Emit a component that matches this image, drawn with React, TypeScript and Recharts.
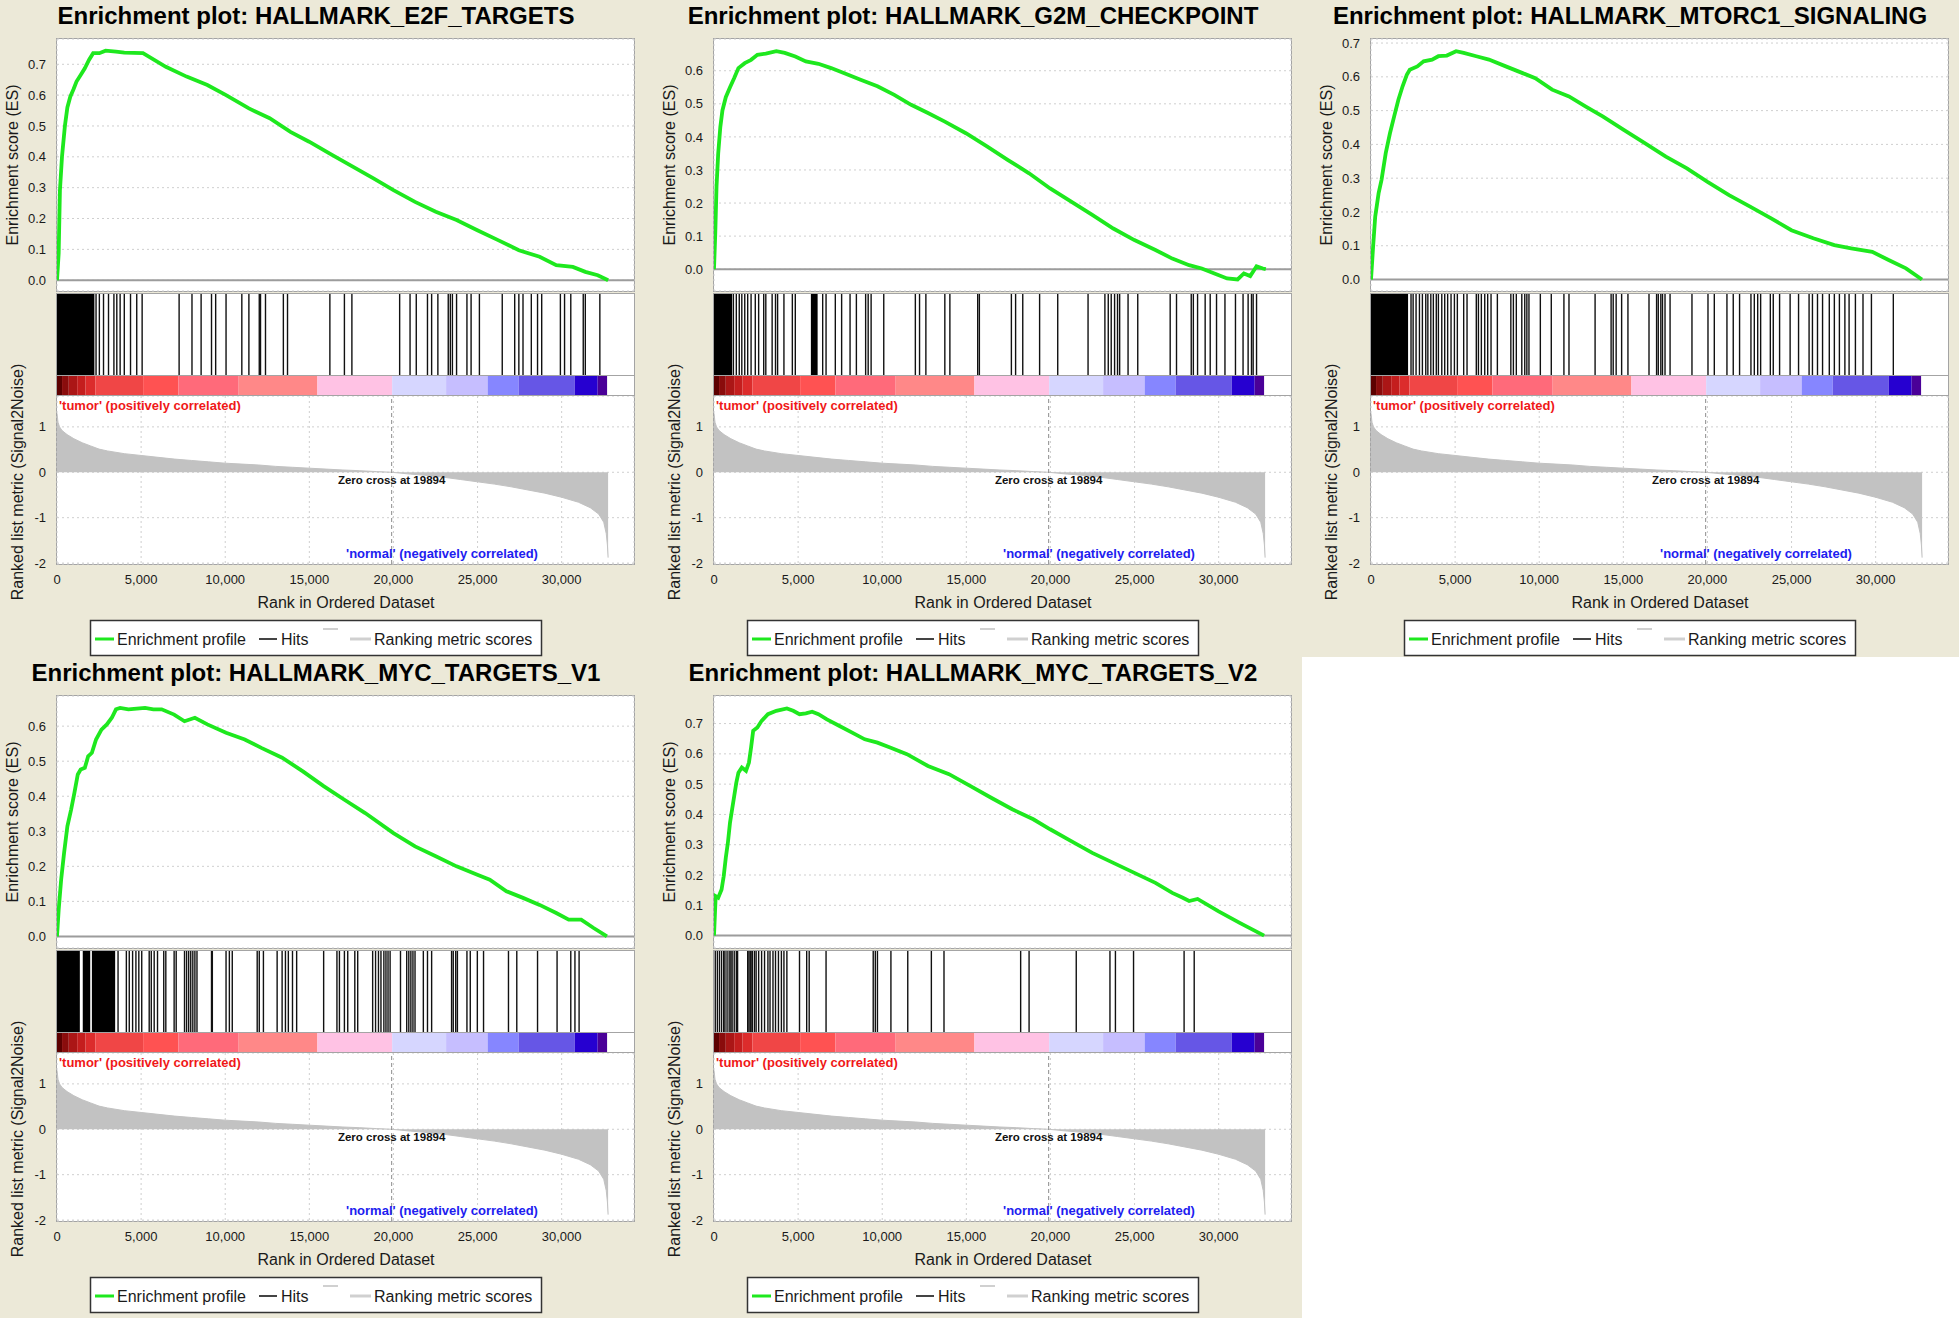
import React from 'react';
import {
  LineChart, Line, XAxis, YAxis, CartesianGrid, ReferenceLine, ReferenceArea,
  ComposedChart, AreaChart, Area, ReferenceDot,
} from 'recharts';

const FONT = '"Liberation Sans", Arial, Helvetica, sans-serif';
const BEIGE = '#ece9d8';
const GREEN = '#1ee81e';
const X_MAX = 34300;
const ZERO_CROSS = 19894;
const RANK_TICKS = [0, 5000, 10000, 15000, 20000, 25000, 30000];
const METRIC_TICKS = [-2, -1, 0, 1];
const METRIC_DOMAIN: [number, number] = [-2.02, 1.68];

// Ranked list metric (same dataset for every panel)
const metricRanks = [0, 60, 150, 300, 600, 1000, 1500, 2000, 2500, 3000, 4000, 5000, 6000, 7000, 8000, 9000, 10000, 11000, 12000, 13000, 14000, 15000, 16000, 17000, 18000, 19000, 19894, 21000, 22000, 23000, 24000, 25000, 26000, 27000, 28000, 29000, 30000, 31000, 31700, 32200, 32500, 32650, 32720, 32760];
const metricValues = [1.3, 1.1, 1.0, 0.92, 0.83, 0.74, 0.65, 0.58, 0.51, 0.47, 0.41, 0.37, 0.33, 0.29, 0.26, 0.23, 0.2, 0.18, 0.16, 0.13, 0.11, 0.09, 0.07, 0.05, 0.035, 0.015, 0, -0.04, -0.07, -0.11, -0.16, -0.21, -0.26, -0.32, -0.39, -0.46, -0.55, -0.66, -0.78, -0.92, -1.1, -1.35, -1.6, -1.88];

// Colour bar of the ranked list
const colorBreaks = [0, 300, 700, 1200, 1700, 2280, 5120, 7215, 10800, 15480, 19925, 23130, 25600, 27450, 30780, 32140, 32700];
const colorFills = ['#5c0000', '#8a0c0c', '#ab1616', '#c41e1e', '#dc2c2c', '#f04646', '#ff5252', '#ff6a7a', '#ff8888', '#ffc2e4', '#d6d6ff', '#c6beff', '#8686ff', '#6656e6', '#2600d0', '#4a0098'];

// HALLMARK_E2F_TARGETS
const e2fRanks = [0, 99, 173, 296, 469, 617, 790, 988, 1160, 1407, 1654, 1901, 2148, 2518, 2889, 3506, 4000, 5111, 6469, 7703, 8938, 10049, 11407, 12641, 13876, 14987, 16345, 17580, 18814, 20000, 21283, 22517, 23752, 24987, 26221, 27455, 28690, 29678, 30666, 31407, 32147, 32764];
const e2fES = [0, 0.087, 0.29, 0.40, 0.50, 0.56, 0.595, 0.62, 0.644, 0.665, 0.687, 0.714, 0.736, 0.736, 0.744, 0.741, 0.738, 0.736, 0.692, 0.66, 0.633, 0.60, 0.557, 0.525, 0.481, 0.449, 0.406, 0.368, 0.33, 0.292, 0.254, 0.222, 0.195, 0.162, 0.13, 0.097, 0.076, 0.049, 0.043, 0.027, 0.016, 0];
const e2fHitBlocks = [[0, 2222]];
const e2fHits = [2321, 2518, 2765, 3062, 3383, 3555, 3753, 4000, 4370, 4740, 5061, 7259, 8024, 8567, 9185, 9432, 10049, 10987, 11407, 12024, 12098, 12394, 13456, 13703, 16221, 17085, 17530, 20369, 20987, 21357, 22023, 22270, 22641, 23258, 23381, 23505, 23752, 24369, 24616, 25110, 26468, 27208, 27455, 27702, 28196, 28566, 28813, 29924, 30172, 30542, 31283, 31406, 32270];

// HALLMARK_G2M_CHECKPOINT
const g2mRanks = [0, 75, 150, 250, 376, 501, 701, 952, 1202, 1452, 1828, 2204, 2579, 3080, 3706, 4207, 4833, 5459, 6210, 6961, 7712, 8714, 9716, 10717, 11719, 12720, 13722, 14974, 16226, 17478, 18730, 19982, 21234, 22486, 23738, 24990, 26242, 27243, 28245, 28996, 29748, 30499, 31125, 31500, 31876, 32252, 32627, 32802];
const g2mES = [0, 0.108, 0.25, 0.35, 0.43, 0.48, 0.52, 0.55, 0.578, 0.608, 0.623, 0.633, 0.648, 0.652, 0.659, 0.654, 0.643, 0.628, 0.621, 0.608, 0.593, 0.573, 0.553, 0.527, 0.497, 0.472, 0.446, 0.411, 0.371, 0.33, 0.29, 0.244, 0.204, 0.164, 0.123, 0.088, 0.058, 0.032, 0.012, 0.002, -0.013, -0.028, -0.031, -0.013, -0.021, 0.009, 0.002, 0];
const g2mHitBlocks = [[0, 1077], [5759, 6160]];
const g2mHits = [1152, 1327, 1502, 1653, 1828, 2003, 2204, 2454, 2654, 2955, 3080, 3456, 3656, 3781, 4157, 4657, 4833, 6460, 6661, 7212, 7587, 8088, 8464, 9014, 9165, 9340, 10091, 11969, 12219, 12595, 13722, 14022, 15675, 15775, 17678, 17929, 18354, 19356, 20433, 22236, 23237, 23437, 23613, 23813, 23988, 24114, 24614, 25190, 27118, 27494, 28370, 28495, 28746, 29197, 29497, 29873, 30374, 30999, 31450, 31751, 31951, 32051, 32252];

// HALLMARK_MTORC1_SIGNALING
const mtorRanks = [0, 125, 250, 451, 626, 876, 1127, 1377, 1628, 1878, 2128, 2304, 2754, 3130, 3631, 4006, 4507, 5058, 5509, 6260, 7011, 8013, 9014, 9766, 10767, 11769, 12770, 13772, 15024, 16276, 17528, 18780, 19982, 21284, 22536, 23788, 24990, 26292, 27544, 28546, 29798, 30800, 31802, 32753];
const mtorES = [0, 0.097, 0.186, 0.255, 0.295, 0.374, 0.433, 0.483, 0.532, 0.572, 0.606, 0.621, 0.631, 0.646, 0.651, 0.661, 0.663, 0.676, 0.671, 0.661, 0.651, 0.631, 0.611, 0.596, 0.562, 0.542, 0.512, 0.483, 0.443, 0.404, 0.364, 0.329, 0.29, 0.25, 0.216, 0.181, 0.146, 0.122, 0.102, 0.092, 0.082, 0.057, 0.033, 0];
const mtorHitBlocks = [[0, 2204]];
const mtorHits = [2379, 2504, 2679, 2880, 3055, 3255, 3380, 3556, 3706, 3881, 4006, 4207, 4382, 4557, 4758, 4958, 5133, 5509, 5709, 6260, 6385, 6560, 6761, 6936, 7136, 7512, 8313, 8464, 8639, 8964, 9140, 9265, 9390, 10066, 10717, 11468, 11769, 13321, 14273, 14398, 14573, 14899, 15274, 16526, 16977, 17077, 17228, 17328, 17478, 17778, 19080, 20032, 20408, 21159, 21534, 21910, 22586, 22786, 22987, 23162, 23738, 23913, 24289, 24915, 25416, 26042, 26242, 26542, 26843, 27243, 27544, 27844, 28170, 28420, 28796, 29247, 29748, 31050];

// HALLMARK_MYC_TARGETS_V1
const myc1Ranks = [0, 99, 247, 420, 617, 839, 1037, 1235, 1407, 1654, 1852, 2074, 2321, 2642, 2963, 3259, 3506, 3753, 4247, 4741, 5234, 5728, 6222, 6963, 7580, 8197, 8938, 10049, 11160, 12148, 13383, 14617, 15851, 17086, 18320, 20000, 21283, 22517, 23752, 24987, 25727, 26715, 27702, 28690, 29678, 30419, 31160, 31900, 32690];
const myc1ES = [0, 0.076, 0.162, 0.238, 0.314, 0.362, 0.41, 0.462, 0.476, 0.481, 0.514, 0.524, 0.562, 0.59, 0.605, 0.624, 0.648, 0.652, 0.648, 0.65, 0.652, 0.648, 0.648, 0.633, 0.614, 0.624, 0.605, 0.581, 0.562, 0.538, 0.51, 0.471, 0.429, 0.39, 0.352, 0.295, 0.257, 0.229, 0.2, 0.176, 0.162, 0.129, 0.11, 0.09, 0.067, 0.048, 0.048, 0.024, 0];
const myc1HitBlocks = [[0, 1358], [1531, 1975], [2074, 3457]];
const myc1Hits = [3629, 4123, 4296, 4494, 4691, 4864, 5037, 5481, 5605, 5777, 5975, 6345, 6469, 6963, 7086, 7580, 7703, 7827, 7950, 8074, 8197, 8321, 9185, 9234, 10049, 10246, 10419, 11901, 12024, 12271, 13086, 13382, 13580, 13752, 13999, 14246, 15851, 16641, 16789, 17085, 17283, 17703, 17876, 18764, 18937, 19110, 19258, 19431, 19555, 19678, 19802, 20419, 20789, 20913, 21036, 21159, 21283, 21777, 22024, 22270, 23456, 23555, 23702, 23802, 24369, 24567, 24987, 25356, 26838, 27332, 28566, 29727, 30542, 30789, 31036];

// HALLMARK_MYC_TARGETS_V2
const myc2Ranks = [0, 100, 250, 451, 576, 701, 826, 952, 1077, 1202, 1327, 1452, 1653, 1903, 2078, 2204, 2329, 2579, 2830, 3205, 3706, 4332, 4708, 5083, 5459, 5834, 6210, 6711, 7462, 8213, 8964, 9716, 10467, 11469, 12720, 13972, 15224, 16476, 17728, 18980, 19982, 21234, 22486, 23738, 24990, 26242, 27243, 27869, 28245, 28746, 29998, 31250, 32702];
const myc2ES = [0, 0.13, 0.125, 0.152, 0.196, 0.257, 0.307, 0.373, 0.417, 0.461, 0.505, 0.538, 0.555, 0.544, 0.571, 0.621, 0.676, 0.687, 0.709, 0.731, 0.742, 0.75, 0.742, 0.731, 0.734, 0.739, 0.731, 0.714, 0.692, 0.67, 0.648, 0.637, 0.621, 0.599, 0.56, 0.533, 0.494, 0.455, 0.417, 0.384, 0.351, 0.312, 0.273, 0.24, 0.207, 0.174, 0.141, 0.125, 0.114, 0.121, 0.08, 0.042, 0];
const myc2HitBlocks: number[][] = [];
const myc2Hits = [75, 200, 326, 451, 576, 651, 776, 901, 1002, 1077, 1202, 1327, 1402, 2003, 2078, 2153, 2204, 2279, 2404, 2504, 2654, 2830, 3005, 3205, 3330, 3506, 3656, 3831, 4006, 4157, 4332, 5083, 5509, 5659, 6661, 9465, 9590, 9716, 10517, 11518, 12921, 13672, 18229, 18730, 21534, 23538, 23863, 24940, 27945, 28546];

const esTicks7 = [0, 0.1, 0.2, 0.3, 0.4, 0.5, 0.6, 0.7];
const esTicks6 = [0, 0.1, 0.2, 0.3, 0.4, 0.5, 0.6];

type PanelSpec = {
  title: string; ranks: number[]; es: number[]; domain: [number, number];
  ticks: number[]; hits: number[]; blocks: number[][];
};

const panels: PanelSpec[] = [
  { title: 'Enrichment plot: HALLMARK_E2F_TARGETS', ranks: e2fRanks, es: e2fES, domain: [-0.035, 0.782], ticks: esTicks7, hits: e2fHits, blocks: e2fHitBlocks },
  { title: 'Enrichment plot: HALLMARK_G2M_CHECKPOINT', ranks: g2mRanks, es: g2mES, domain: [-0.066, 0.696], ticks: esTicks6, hits: g2mHits, blocks: g2mHitBlocks },
  { title: 'Enrichment plot: HALLMARK_MTORC1_SIGNALING', ranks: mtorRanks, es: mtorES, domain: [-0.034, 0.712], ticks: esTicks7, hits: mtorHits, blocks: mtorHitBlocks },
  { title: 'Enrichment plot: HALLMARK_MYC_TARGETS_V1', ranks: myc1Ranks, es: myc1ES, domain: [-0.033, 0.686], ticks: esTicks6, hits: myc1Hits, blocks: myc1HitBlocks },
  { title: 'Enrichment plot: HALLMARK_MYC_TARGETS_V2', ranks: myc2Ranks, es: myc2ES, domain: [-0.041, 0.791], ticks: esTicks7, hits: myc2Hits, blocks: myc2HitBlocks },
];

const panelPos = [
  { x: 0, y: 0, w: 657, h: 657 },
  { x: 657, y: 0, w: 657, h: 657 },
  { x: 1314, y: 0, w: 645, h: 657 },
  { x: 0, y: 657, w: 657, h: 661 },
  { x: 657, y: 657, w: 645, h: 661 },
];

const metricData = metricRanks.map((r, i) => ({ rank: r, m: metricValues[i] }));
const fmtRank = (v: number) => v.toLocaleString('en-US');
const tickStyle = { fontSize: 13, fill: '#1a1a1a', fontFamily: FONT };

const boxStyle = (left: number, top: number, width: number, height: number): React.CSSProperties => ({
  position: 'absolute', left, top, width, height, background: '#fff',
  border: '1px solid #a4a4a4', boxSizing: 'border-box',
});

function Panel({ p, pos }: { p: PanelSpec; pos: { x: number; y: number; w: number; h: number } }) {
  const esData = p.ranks.map((r, i) => ({ rank: r, es: p.es[i] }));
  const hitData = p.hits.map((r) => ({ rank: r, v: 0.5 }));
  return (
    <div style={{ position: 'absolute', left: pos.x, top: pos.y, width: pos.w, height: pos.h, background: BEIGE, overflow: 'hidden', fontFamily: FONT }}>
      <div style={{ position: 'absolute', left: 0, top: 2, width: 632, textAlign: 'center', fontSize: 24, fontWeight: 'bold', lineHeight: '28px', color: '#000', whiteSpace: 'nowrap' }}>{p.title}</div>

      {/* Enrichment score */}
      <div style={boxStyle(56, 38, 579, 254)} />
      <div style={{ position: 'absolute', left: 0, top: 0 }}>
        <LineChart width={640} height={292} data={esData} margin={{ top: 39, right: 6, bottom: 1, left: 0 }}>
          <CartesianGrid strokeDasharray="2 3" stroke="#cfcfcf" />
          <XAxis dataKey="rank" type="number" domain={[0, X_MAX]} ticks={RANK_TICKS} height={0} tick={false} axisLine={false} tickLine={false} allowDataOverflow />
          <YAxis type="number" domain={p.domain} ticks={p.ticks} width={57} axisLine={false} tickLine={false} tickSize={8} tickMargin={3} tickFormatter={(v: number) => v.toFixed(1)} tick={tickStyle} allowDataOverflow />
          <ReferenceLine y={0} stroke="#9c9c9c" strokeWidth={2} />
          <Line dataKey="es" type="linear" stroke={GREEN} strokeWidth={3.8} dot={false} isAnimationActive={false} />
        </LineChart>
      </div>

      {/* Hits */}
      <div style={boxStyle(56, 293, 579, 83)} />
      <div style={{ position: 'absolute', left: 0, top: 294 }}>
        <ComposedChart width={640} height={81} data={hitData} margin={{ top: 0, right: 6, bottom: 0, left: 57 }}>
          <XAxis dataKey="rank" type="number" domain={[0, X_MAX]} hide allowDataOverflow />
          <YAxis type="number" domain={[0, 1]} hide allowDataOverflow />
          <Line dataKey="v" stroke="none" dot={false} isAnimationActive={false} legendType="none" />
          {p.blocks.map(([a, b], i) => (
            <ReferenceArea key={'b' + i} x1={a} x2={b} y1={0} y2={1} fill="#000" fillOpacity={1} stroke="none" ifOverflow="visible" />
          ))}
          {p.hits.map((h, i) => (
            <ReferenceLine key={'h' + i} x={h} stroke="#111" strokeWidth={1.4} ifOverflow="visible" />
          ))}
        </ComposedChart>
      </div>

      {/* Colour bar */}
      <div style={boxStyle(56, 375, 579, 21)} />
      <div style={{ position: 'absolute', left: 0, top: 376 }}>
        <ComposedChart width={640} height={19} data={hitData} margin={{ top: 0, right: 6, bottom: 0, left: 57 }}>
          <XAxis dataKey="rank" type="number" domain={[0, X_MAX]} hide allowDataOverflow />
          <YAxis type="number" domain={[0, 1]} hide allowDataOverflow />
          <Line dataKey="v" stroke="none" dot={false} isAnimationActive={false} legendType="none" />
          {colorFills.map((c, i) => (
            <ReferenceArea key={'c' + i} x1={colorBreaks[i]} x2={colorBreaks[i + 1]} y1={0} y2={1} fill={c} fillOpacity={1} stroke="none" ifOverflow="visible" />
          ))}
        </ComposedChart>
      </div>

      {/* Ranked list metric */}
      <div style={boxStyle(56, 395, 579, 170)} />
      <div style={{ position: 'absolute', left: 0, top: 396 }}>
        <AreaChart width={640} height={200} data={metricData} margin={{ top: 0, right: 6, bottom: 0, left: 0 }}>
          <CartesianGrid strokeDasharray="2 3" stroke="#cfcfcf" />
          <XAxis dataKey="rank" type="number" domain={[0, X_MAX]} ticks={RANK_TICKS} tickFormatter={fmtRank} axisLine={false} tickLine={false} tickSize={6} tickMargin={5} height={32} tick={tickStyle} allowDataOverflow />
          <YAxis type="number" domain={METRIC_DOMAIN} ticks={METRIC_TICKS} width={57} axisLine={false} tickLine={false} tickSize={8} tickMargin={3} tick={tickStyle} allowDataOverflow />
          <Area dataKey="m" type="linear" baseValue={0} fill="#c2c2c2" fillOpacity={1} stroke="#c2c2c2" strokeWidth={1} isAnimationActive={false} />
          <ReferenceLine x={ZERO_CROSS} stroke="#8c8c8c" strokeDasharray="4 3" />
          <ReferenceDot x={ZERO_CROSS} y={0} r={1} fill="none" stroke="none"
            label={{ value: `Zero cross at ${ZERO_CROSS}`, position: 'bottom', offset: 3, fontSize: 11.5, fontWeight: 'bold', fill: '#111', fontFamily: FONT }} />
        </AreaChart>
      </div>

      {/* Texts and legend */}
      <svg width={pos.w} height={pos.h} style={{ position: 'absolute', left: 0, top: 0, pointerEvents: 'none' }} fontFamily={FONT}>
        <text x={12} y={165} transform="rotate(-90 12 165)" textAnchor="middle" dominantBaseline="central" fontSize={16} fill="#1a1a1a">Enrichment score (ES)</text>
        <text x={17} y={482} transform="rotate(-90 17 482)" textAnchor="middle" dominantBaseline="central" fontSize={16} fill="#1a1a1a">Ranked list metric (Signal2Noise)</text>
        <text x={59} y={405} dominantBaseline="central" fontSize={13} fontWeight="bold" fill="#f01818">'tumor' (positively correlated)</text>
        <text x={442} y={553} textAnchor="middle" dominantBaseline="central" fontSize={13} fontWeight="bold" fill="#2020f0">'normal' (negatively correlated)</text>
        <text x={346} y={602} textAnchor="middle" dominantBaseline="central" fontSize={16} fill="#1a1a1a">Rank in Ordered Dataset</text>
        <rect x={90.5} y={620.5} width={451} height={35} fill="#fff" stroke="#333" strokeWidth={1.5} />
        <line x1={95} x2={114} y1={639} y2={639} stroke={GREEN} strokeWidth={3} />
        <text x={117} y={639} dominantBaseline="central" fontSize={16} fill="#1a1a1a">Enrichment profile</text>
        <line x1={259} x2={277} y1={639} y2={639} stroke="#444" strokeWidth={2} />
        <text x={281} y={639} dominantBaseline="central" fontSize={16} fill="#1a1a1a">Hits</text>
        <line x1={323} x2={338} y1={629} y2={629} stroke="#d0d0d0" strokeWidth={2} />
        <line x1={350} x2={371} y1={639} y2={639} stroke="#d0d0d0" strokeWidth={3} />
        <text x={374} y={639} dominantBaseline="central" fontSize={16} fill="#1a1a1a">Ranking metric scores</text>
      </svg>
    </div>
  );
}

export default function App() {
  return (
    <div style={{ position: 'absolute', left: 0, top: 0, width: 1959, height: 1318, background: '#fff', overflow: 'hidden' }}>
      {panels.map((p, i) => (
        <Panel key={i} p={p} pos={panelPos[i]} />
      ))}
    </div>
  );
}
